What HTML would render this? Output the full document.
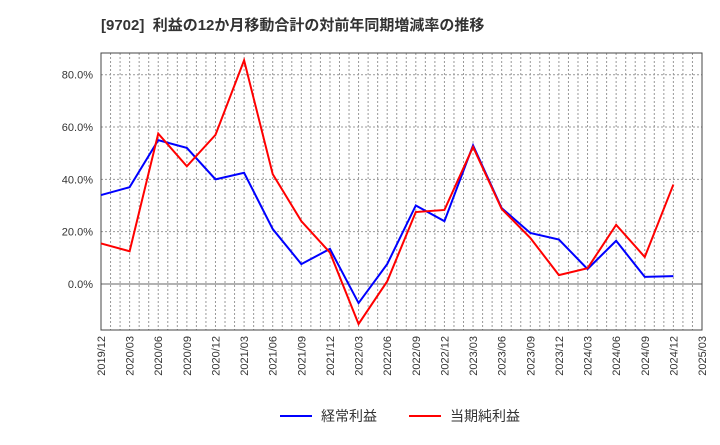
<!DOCTYPE html>
<html><head><meta charset="utf-8"><style>
body{margin:0;background:#fff;font-family:"Liberation Sans","Noto Sans CJK JP",sans-serif}
</style></head><body>
<svg id="c" width="720" height="440" xmlns="http://www.w3.org/2000/svg" font-family="Liberation Sans, Noto Sans CJK JP, sans-serif">
<text x="101" y="30" font-size="15" font-weight="bold" fill="#333">[9702]&#160;&#160;利益の12か月移動合計の対前年同期増減率の推移</text>
<g id="grid"></g><g id="axes"></g><g id="series"></g>
<g>
<line x1="280" y1="416" x2="312" y2="416" stroke="#0000ff" stroke-width="2"/>
<text x="321" y="421" font-size="14" fill="#333">経常利益</text>
<line x1="409" y1="416" x2="441" y2="416" stroke="#ff0000" stroke-width="2"/>
<text x="450" y="421" font-size="14" fill="#333">当期純利益</text>
</g>
</svg>
<script>
const categories=["2019/12","2020/03","2020/06","2020/09","2020/12","2021/03","2021/06","2021/09","2021/12","2022/03","2022/06","2022/09","2022/12","2023/03","2023/06","2023/09","2023/12","2024/03","2024/06","2024/09","2024/12","2025/03"];
const ordinary=[34,37,55,52,40,42.5,21,7.6,13.4,-7.3,7.6,30,24,53,29,19.5,17,5.7,16.5,2.7,3];
const netIncome=[15.5,12.5,57.5,45,57,85.5,42,24,12,-15.3,1,27.5,28.3,52.4,28.7,17.6,3.4,6,22.6,10.3,38];
const yTicks=[0,20,40,60,80];
const L=101,R=702,T=53,B=330,yMin=-17.6,yMax=88.3;
const xs=i=>L+(R-L)*i/(categories.length-1);
const ys=v=>B-(v-yMin)/(yMax-yMin)*(B-T);
const NS="http://www.w3.org/2000/svg";
function mk(p,t,a){const e=document.createElementNS(NS,t);for(const k in a)e.setAttribute(k,a[k]);p.appendChild(e);return e;}
const grid=document.getElementById('grid'),axes=document.getElementById('axes'),ser=document.getElementById('series');
for(let m=1;m<63;m++){const x=L+(R-L)*m/63;
const g=mk(grid,'line',{x1:x,x2:x,y1:T,y2:B,stroke:'#999','stroke-dasharray':'2,2','stroke-width':1});

}
yTicks.forEach(v=>{const y=ys(v);
const g=mk(grid,'line',{x1:L,x2:R,y1:y,y2:y,stroke:v===0?'#666':'#999','stroke-dasharray':v===0?'':'2,2','stroke-width':1});


const t=mk(axes,'text',{x:L-8,y:y+4,'text-anchor':'end','font-size':11,fill:'#333'});t.textContent=v.toFixed(1)+'%';

});
const fr=mk(axes,'rect',{x:L,y:T,width:R-L,height:B-T,fill:'none',stroke:'#444','stroke-width':1});


categories.forEach((c,i)=>{const x=xs(i);
const t=mk(axes,'text',{transform:`translate(${x+4},${B+6}) rotate(-90)`,'text-anchor':'end','font-size':11,fill:'#333'});t.textContent=c;

});
[[ordinary,'#0000ff','ordinary-profit-line'],[netIncome,'#ff0000','net-income-line']].forEach(([d,col,n])=>{
const p=mk(ser,'polyline',{points:d.map((v,i)=>xs(i)+','+ys(v)).join(' '),fill:'none',stroke:col,'stroke-width':2});

});
</script>
</body></html>
